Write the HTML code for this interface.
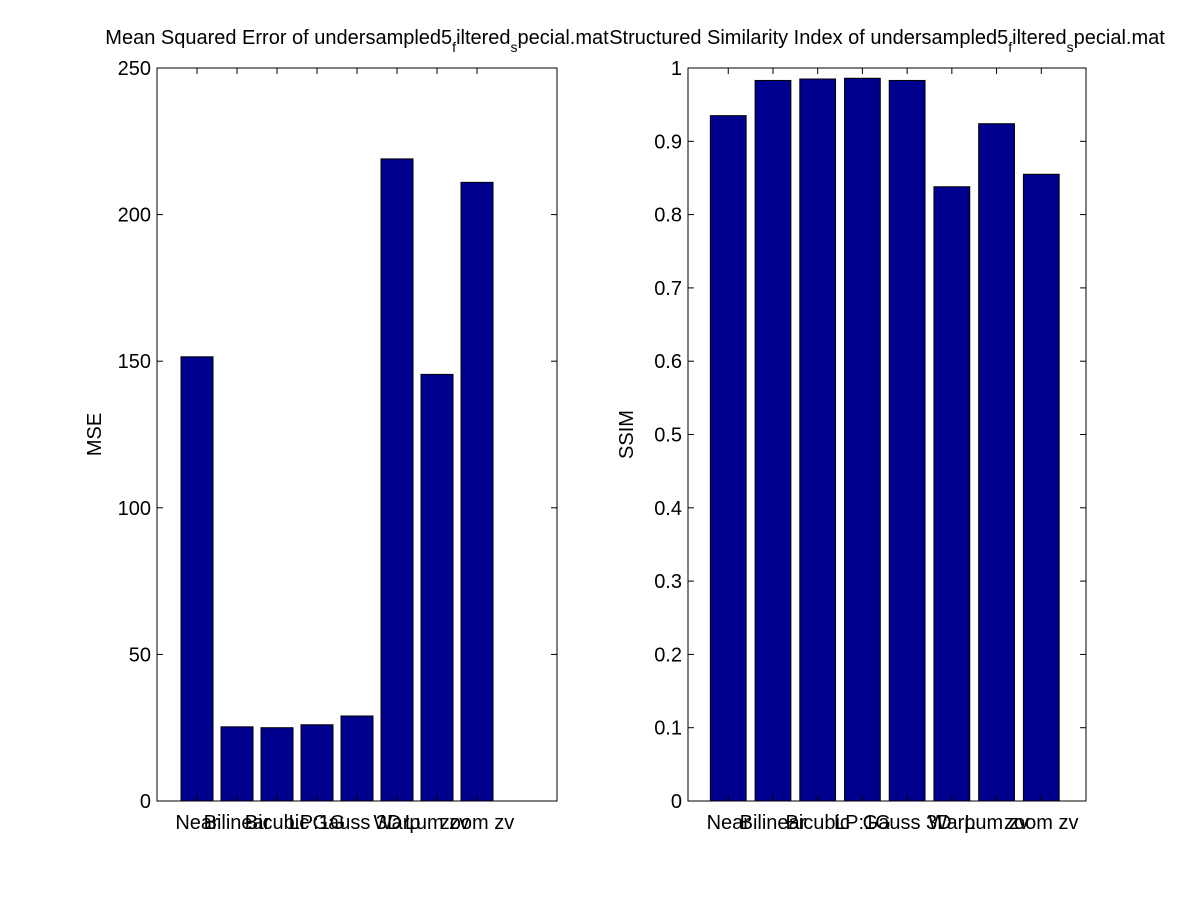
<!DOCTYPE html>
<html><head><meta charset="utf-8"><style>
body{margin:0;background:#fff;}
svg text{font-family:"Liberation Sans",Arial,sans-serif;fill:#000;}
</style></head><body>
<svg id="chart" width="1200" height="900" xmlns="http://www.w3.org/2000/svg"></svg>
<script>
const categories = ["Near","Bilinear","Bicubic","LP:1G","Gauss 3D","Warp","Lum zv","zoom zv"];
const mseValues = [151.5, 25.3, 25.0, 26.0, 29.0, 219.0, 145.5, 211.0];
const ssimValues = [0.935, 0.983, 0.985, 0.986, 0.983, 0.838, 0.924, 0.855];
const mseTicks = [0, 50, 100, 150, 200, 250];
const ssimTicks = [0, 0.1, 0.2, 0.3, 0.4, 0.5, 0.6, 0.7, 0.8, 0.9, 1];

const svg = document.getElementById('chart');
const NS = 'http://www.w3.org/2000/svg';
function el(tag, attrs, parent) {
  const e = document.createElementNS(NS, tag);
  for (const k in attrs) e.setAttribute(k, attrs[k]);
  (parent || svg).appendChild(e);
  return e;
}
function panel(cfg) {
  const g = el('g', {});
  
  
  const {x0, x1, y0, y1, xmin, xmax, ymax} = cfg;
  const sx = v => x0 + (v - xmin) / (xmax - xmin) * (x1 - x0);
  const sy = v => y1 - v / ymax * (y1 - y0);
  cfg.values.forEach((v, i) => {
    const c = sx(i + 1), w = sx(0.4) - sx(0);
    const r = el('rect', {x: c - w, y: sy(v), width: 2 * w, height: sy(0) - sy(v), fill: '#00008f', stroke: '#000', 'stroke-width': 1}, g);
    
    
  });
  const box = el('rect', {x: x0, y: y0, width: x1 - x0, height: y1 - y0, fill: 'none', stroke: '#000', 'stroke-width': 1}, g);
  
  
  cfg.ticks.forEach(t => {
    const y = sy(t);
    el('line', {x1: x0, x2: x0 + 6, y1: y, y2: y, stroke: '#000'}, g);
    el('line', {x1: x1, x2: x1 - 6, y1: y, y2: y, stroke: '#000'}, g);
    const tx = el('text', {x: x0 - 6, y: y + 7, 'font-size': 20, 'text-anchor': 'end'}, g);
    tx.textContent = t;
    
    
  });
  categories.forEach((c, i) => {
    const x = sx(i + 1);
    el('line', {x1: x, x2: x, y1: y1, y2: y1 - 6, stroke: '#000'}, g);
    el('line', {x1: x, x2: x, y1: y0, y2: y0 + 6, stroke: '#000'}, g);
    const tx = el('text', {x: x, y: y1 + 28, 'font-size': 20, 'text-anchor': 'middle'}, g);
    tx.textContent = c;
    
    
  });
  const yl = el('text', {x: 0, y: 0, 'font-size': 20, 'text-anchor': 'middle', transform: `translate(${cfg.ylx},${(y0 + y1) / 2}) rotate(-90)`}, g);
  yl.textContent = cfg.ylabel;
  
  
  const t = el('text', {x: (x0 + x1) / 2, y: 44, 'font-size': 20, 'text-anchor': 'middle'}, g);
  t.innerHTML = cfg.title + ' of undersampled5<tspan dy="8" font-size="14">f</tspan><tspan dy="-8">iltered</tspan><tspan dy="8" font-size="14">s</tspan><tspan dy="-8">pecial.mat</tspan>';
  
  
}
panel({name: 'mse-panel', x0: 157, x1: 557, y0: 68, y1: 801, xmin: 0, xmax: 10, ymax: 250, values: mseValues, ticks: mseTicks, ylabel: 'MSE', ylx: 101, title: 'Mean Squared Error'});
panel({name: 'ssim-panel', x0: 688, x1: 1086, y0: 68, y1: 801, xmin: 0.1, xmax: 9, ymax: 1, values: ssimValues, ticks: ssimTicks, ylabel: 'SSIM', ylx: 633, title: 'Structured Similarity Index'});
</script>
</body></html>
